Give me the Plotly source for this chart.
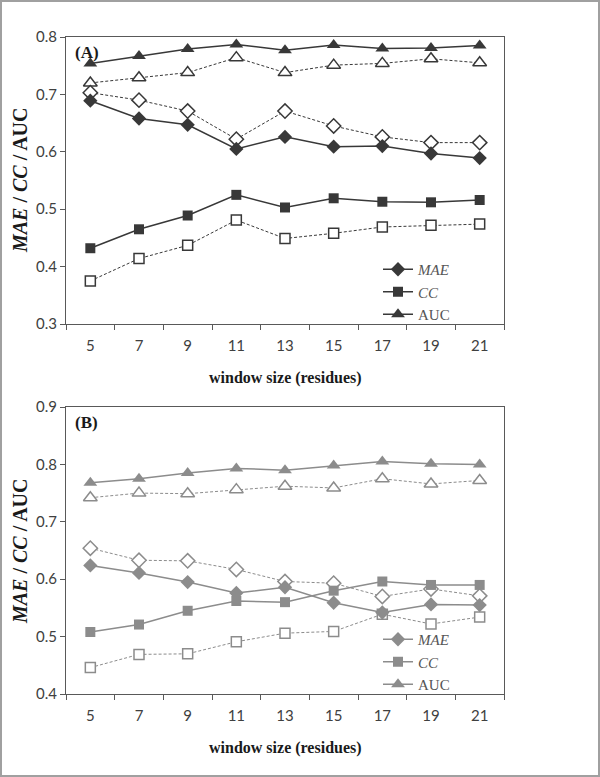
import plotly.graph_objects as go

window = ["5", "7", "9", "11", "13", "15", "17", "19", "21"]

# Panel A
a_auc = [0.754, 0.767, 0.779, 0.787, 0.777, 0.786, 0.780, 0.781, 0.785]
a_auc_open = [0.720, 0.729, 0.738, 0.764, 0.738, 0.751, 0.754, 0.762, 0.755]
a_mae = [0.689, 0.658, 0.647, 0.605, 0.626, 0.609, 0.610, 0.597, 0.589]
a_mae_open = [0.703, 0.690, 0.671, 0.622, 0.671, 0.645, 0.626, 0.616, 0.616]
a_cc = [0.432, 0.465, 0.489, 0.525, 0.503, 0.519, 0.513, 0.512, 0.516]
a_cc_open = [0.375, 0.414, 0.437, 0.481, 0.449, 0.458, 0.469, 0.472, 0.474]

# Panel B
b_auc = [0.768, 0.775, 0.785, 0.793, 0.790, 0.798, 0.805, 0.801, 0.800]
b_auc_open = [0.742, 0.750, 0.749, 0.756, 0.762, 0.759, 0.775, 0.766, 0.772]
b_mae = [0.624, 0.611, 0.595, 0.576, 0.586, 0.559, 0.542, 0.556, 0.555]
b_mae_open = [0.654, 0.633, 0.632, 0.617, 0.596, 0.593, 0.570, 0.583, 0.571]
b_cc = [0.508, 0.521, 0.545, 0.562, 0.560, 0.580, 0.596, 0.590, 0.590]
b_cc_open = [0.446, 0.469, 0.470, 0.491, 0.506, 0.509, 0.539, 0.522, 0.534]

W, H = 600, 777
def px_x(p): return p / W
def px_y(p): return 1 - p / H

dark = "#383838"
grey = "#8c8c8c"
SERIF = "Liberation Serif, Times New Roman, serif"

fig = go.Figure()

def add_series(y, name, symbol, color, filled, xa, ya, legend, size):
    if filled:
        fig.add_trace(go.Scatter(
            x=window, y=y, name=name, mode="lines+markers",
            line=dict(color=color, width=1.5),
            marker=dict(symbol=symbol, size=size, color=color),
            xaxis=xa, yaxis=ya, legend=legend, showlegend=True))
    else:
        fig.add_trace(go.Scatter(
            x=window, y=y, name=name, mode="lines+markers",
            line=dict(color=color, width=1, dash="3px,2px"),
            marker=dict(symbol=symbol, size=size, color="white",
                        line=dict(color=color, width=1.5)),
            xaxis=xa, yaxis=ya, showlegend=False))

# Panel A (dark)
add_series(a_auc_open, "AUC open", "triangle-up", dark, False, "x", "y", "legend", 12)
add_series(a_mae_open, "MAE open", "diamond", dark, False, "x", "y", "legend", 11)
add_series(a_cc_open, "CC open", "square", dark, False, "x", "y", "legend", 10)
add_series(a_mae, "<i>MAE</i>", "diamond", dark, True, "x", "y", "legend", 11)
add_series(a_cc, "<i>CC</i>", "square", dark, True, "x", "y", "legend", 10)
add_series(a_auc, "AUC", "triangle-up", dark, True, "x", "y", "legend", 12)

# Panel B (grey)
add_series(b_auc_open, "AUC open", "triangle-up", grey, False, "x2", "y2", "legend2", 12)
add_series(b_mae_open, "MAE open", "diamond", grey, False, "x2", "y2", "legend2", 11)
add_series(b_cc_open, "CC open", "square", grey, False, "x2", "y2", "legend2", 10)
add_series(b_mae, "<i>MAE</i>", "diamond", grey, True, "x2", "y2", "legend2", 11)
add_series(b_cc, "<i>CC</i>", "square", grey, True, "x2", "y2", "legend2", 10)
add_series(b_auc, "AUC", "triangle-up", grey, True, "x2", "y2", "legend2", 12)

axis_line = "#595959"
tick_font = dict(family="Lato, Open Sans, sans-serif", size=15, color="#404040")

xcommon = dict(type="category", tickson="boundaries", ticks="outside", ticklen=5,
               tickcolor=axis_line, showline=True, linecolor=axis_line, linewidth=1,
               mirror=True, showgrid=False, zeroline=False, tickfont=tick_font,
               domain=[px_x(66), px_x(504)], range=[-0.5, 8.5], ticklabelstandoff=8)
ycommon = dict(ticks="outside", ticklen=5, tickcolor=axis_line, showline=True,
               linecolor=axis_line, linewidth=1, mirror=True, showgrid=False,
               zeroline=False, dtick=0.1, tickformat=".1f", tickfont=tick_font)

legend_common = dict(bgcolor="rgba(0,0,0,0)", itemwidth=30, tracegroupgap=0,
                     font=dict(family=SERIF, size=15, color="#555555"),
                     xanchor="left", yanchor="top", itemclick=False)

fig.update_layout(
    width=W, height=H, autosize=False,
    margin=dict(l=0, r=0, t=0, b=0, autoexpand=False),
    paper_bgcolor="white", plot_bgcolor="white",
    xaxis=dict(anchor="y", **xcommon),
    xaxis2=dict(anchor="y2", **xcommon),
    yaxis=dict(anchor="x", domain=[px_y(324), px_y(37)], range=[0.3, 0.8], **ycommon),
    yaxis2=dict(anchor="x2", domain=[px_y(694), px_y(407)], range=[0.4, 0.9], **ycommon),
    legend=dict(x=px_x(378), y=px_y(253), **legend_common),
    legend2=dict(x=px_x(378), y=px_y(623), **legend_common),
    showlegend=True,
)

serif_bold = dict(family=SERIF, size=16, color="#1a1a1a")
ytitle_font = dict(family=SERIF, size=20, color="#1a1a1a")
annotations = [
    dict(text="<b>window size (residues)</b>", x=px_x(285), y=px_y(378),
         font=serif_bold),
    dict(text="<b>window size (residues)</b>", x=px_x(285), y=px_y(748),
         font=serif_bold),
    dict(text="<b><i>MAE</i> / <i>CC</i> / AUC</b>", x=px_x(20), y=px_y(180),
         textangle=-90, font=ytitle_font),
    dict(text="<b><i>MAE</i> / <i>CC</i> / AUC</b>", x=px_x(20), y=px_y(551),
         textangle=-90, font=ytitle_font),
    dict(text="<b>(A)</b>", x=px_x(73), y=px_y(52), xanchor="left",
         font=dict(family=SERIF, size=17, color="#1a1a1a")),
    dict(text="<b>(B)</b>", x=px_x(73), y=px_y(422), xanchor="left",
         font=dict(family=SERIF, size=17, color="#1a1a1a")),
]
for a in annotations:
    a.setdefault("xanchor", "center")
    fig.add_annotation(xref="paper", yref="paper", showarrow=False, yanchor="middle", **a)

fig.add_shape(type="rect", xref="paper", yref="paper",
              x0=px_x(1), x1=px_x(599), y0=px_y(776), y1=px_y(1),
              line=dict(color="#a0a0a0", width=2), fillcolor="rgba(0,0,0,0)")

fig.write_html(
    "out.html",
    config={"responsive": False, "displayModeBar": False},
    post_script="document.body.style.margin='0';document.body.style.padding='0';document.body.style.overflow='hidden';",
)
